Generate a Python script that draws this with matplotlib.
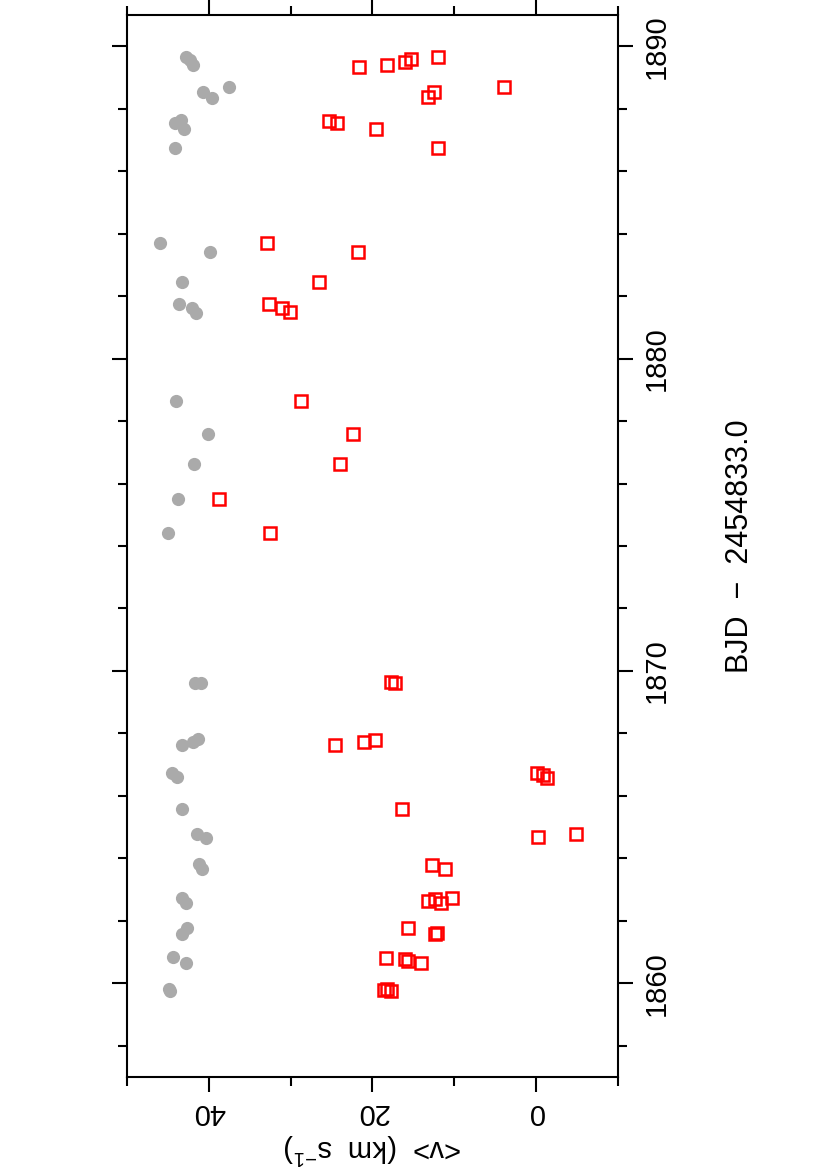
import matplotlib
matplotlib.use("Agg")
import matplotlib.pyplot as plt
from matplotlib.ticker import MultipleLocator

plt.rcParams['font.family'] = ['Liberation Sans', 'DejaVu Sans']
plt.rcParams['mathtext.fontset'] = 'custom'
plt.rcParams['mathtext.rm'] = 'Liberation Sans'
plt.rcParams['mathtext.it'] = 'Liberation Sans'

# Grey circles: BJD - 2454833.0 and <v> (km/s)
grey_bjd = [1889.65, 1889.56, 1889.40, 1888.69, 1888.53, 1888.34, 1887.63, 1887.54,
            1887.35, 1886.74, 1883.69, 1883.40, 1882.44, 1881.74, 1881.61, 1881.45,
            1878.63, 1877.60, 1876.64, 1875.52, 1874.43, 1869.62, 1869.62, 1867.63,
            1867.73, 1867.83, 1866.74, 1866.61, 1865.58, 1864.78, 1864.65, 1863.82,
            1863.66, 1862.73, 1862.57, 1861.77, 1861.58, 1860.84, 1860.65, 1859.75,
            1859.81]
grey_v = [42.79, 42.30, 41.93, 37.54, 40.71, 39.61, 43.40, 44.13,
          43.03, 44.13, 45.97, 39.86, 43.28, 43.65, 42.06, 41.57,
          44.01, 40.10, 41.81, 43.77, 44.99, 41.69, 40.96, 43.28,
          41.93, 41.32, 44.50, 43.89, 43.28, 41.45, 40.35, 41.20,
          40.83, 43.28, 42.79, 42.67, 43.28, 44.38, 42.79, 44.75,
          44.87]

# Red squares
red_bjd = [1889.65, 1889.59, 1889.49, 1889.40, 1889.33, 1888.69, 1888.53, 1888.37,
           1887.60, 1887.54, 1887.35, 1886.74, 1883.69, 1883.40, 1882.44, 1881.74,
           1881.61, 1881.48, 1878.63, 1877.60, 1876.64, 1875.52, 1874.43, 1869.65,
           1869.62, 1867.63, 1867.73, 1867.79, 1866.74, 1866.67, 1866.58, 1865.58,
           1864.69, 1864.78, 1863.79, 1863.66, 1862.63, 1862.70, 1862.57, 1862.73,
           1861.77, 1861.58, 1861.61, 1860.81, 1860.78, 1860.71, 1860.65, 1859.81,
           1859.75, 1859.78]
red_v = [12.00, 15.29, 16.03, 18.23, 21.65, 3.93, 12.48, 13.22,
         25.31, 24.34, 19.57, 12.00, 32.89, 21.77, 26.54, 32.65,
         31.06, 30.08, 28.74, 22.38, 23.97, 38.76, 32.52, 17.74,
         17.25, 24.58, 21.04, 19.69, -0.10, -0.84, -1.33, 16.39,
         -0.23, -4.87, 12.73, 11.14, 13.22, 12.36, 11.63, 10.28,
         15.66, 12.36, 12.12, 18.35, 16.03, 15.66, 14.07, 18.23,
         17.74, 18.59]

fig = plt.figure(figsize=(8.27, 11.70), dpi=100)
ax = fig.add_axes([127/827, 1 - 1077/1170, (618-127)/827, (1077-15)/1170])

ax.plot(grey_v, grey_bjd, 'o', color='#aaaaaa', markersize=9.5, markeredgewidth=0)
ax.plot(red_v, red_bjd, 's', markerfacecolor='none', markeredgecolor='#ff0000',
        markersize=8.3, markeredgewidth=1.8)

ax.set_xlim(50, -10)
ax.set_ylim(1857, 1891)

ax.xaxis.set_major_locator(MultipleLocator(20))
ax.xaxis.set_minor_locator(MultipleLocator(10))
ax.yaxis.set_major_locator(MultipleLocator(10))
ax.yaxis.set_minor_locator(MultipleLocator(2))

for s in ax.spines.values():
    s.set_linewidth(1.5)

ax.tick_params(which='both', direction='out', width=1.5,
               top=True, bottom=True, left=True, right=True,
               labelleft=False, labeltop=False, labelright=True, labelbottom=True)
ax.tick_params(which='major', length=11)
ax.tick_params(which='minor', length=6.5)
ax.tick_params(axis='x', which='major', labelsize=21, labelrotation=180, pad=4)
ax.tick_params(axis='y', which='major', labelsize=21, labelrotation=90, pad=7)
for lab in ax.get_yticklabels():
    lab.set_verticalalignment('center')

ax.set_xlabel(r'<v>  (km  s$^{-1}$)', fontsize=21, rotation=180, labelpad=4)
ax.yaxis.set_label_position('right')
ax.set_ylabel('BJD  \u2212  2454833.0', fontsize=22, rotation=90)
ax.yaxis.set_label_coords((725 - 127) / 491, 0.5)

fig.savefig('out.png', dpi=100)
